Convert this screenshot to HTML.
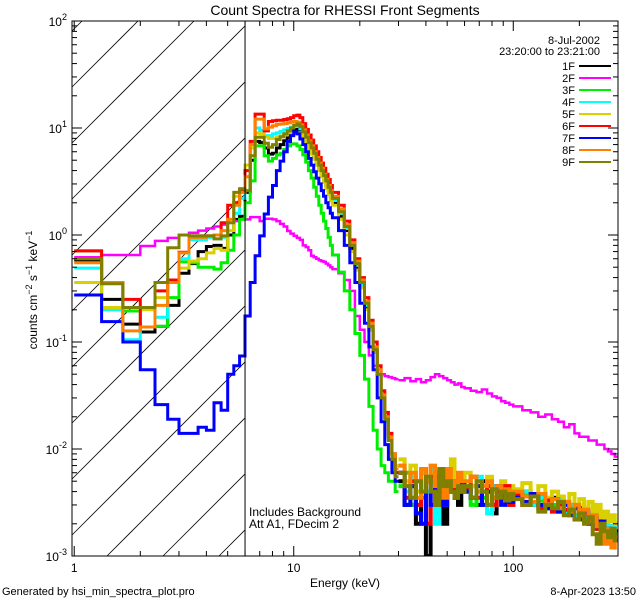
<!DOCTYPE html>
<html><head><meta charset="utf-8">
<style>
html,body{margin:0;padding:0;background:#fff;width:640px;height:600px;overflow:hidden;}
svg{display:block;font-family:"Liberation Sans",sans-serif;overflow:hidden;}
text{fill:#000;}
</style></head>
<body>
<svg id="chart" width="640" height="600" viewBox="0 0 640 600" xmlns="http://www.w3.org/2000/svg">
<rect x="0" y="0" width="640" height="600" fill="#fff"/>
<defs><clipPath id="plotclip"><rect x="72" y="21" width="546" height="535"/></clipPath></defs>
<g id="hatch"></g>
<g id="series" clip-path="url(#plotclip)"></g>
<g id="axes"></g>
<text x="345" y="15" font-size="14" text-anchor="middle">Count Spectra for RHESSI Front Segments</text>
<text x="345" y="587" font-size="12" text-anchor="middle">Energy (keV)</text>
<text transform="translate(37,290) rotate(-90)" font-size="12" text-anchor="middle">counts cm<tspan dy="-5" font-size="9">−2</tspan><tspan dy="5"> s</tspan><tspan dy="-5" font-size="9">−1</tspan><tspan dy="5"> keV</tspan><tspan dy="-5" font-size="9">−1</tspan></text>
<text x="2" y="595" font-size="11">Generated by hsi_min_spectra_plot.pro</text>
<text x="636" y="595" font-size="11" text-anchor="end">8-Apr-2023 13:50</text>
<text x="249" y="516" font-size="12">Includes Background</text>
<text x="249" y="528" font-size="12">Att A1, FDecim 2</text>
<text x="600" y="44" font-size="11" text-anchor="end">8-Jul-2002</text>
<text x="600" y="55" font-size="11" text-anchor="end">23:20:00 to 23:21:00</text>
<g id="legend"></g>
</svg>
<script>
const edges=[1,1.333,1.667,2,2.333,2.667,3,3.333,3.667,4,4.333,4.667,5,5.333,5.667,6,6.333,6.667,7,7.333,7.667,8,8.333,8.667,9,9.333,9.667,10,10.333,10.667,11,11.333,11.667,12,12.333,12.667,13,13.333,13.667,14,14.333,14.667,15,16,17,18,19,20,21,22,23,24,25,26,27,28,29,30,32,34,36,38,40,42,44,46,48,50,52,54,56,58,60,64,68,72,76,80,84,88,92,96,100,110,120,130,140,150,160,170,180,190,200,210,220,230,240,250,260,270,280,290,300];
const seriesNames=["1F","2F","3F","4F","5F","6F","7F","8F","9F"];
const seriesColors=["#000000","#ff00ff","#00ee00","#00ffff","#d8d000","#ff0000","#0000ff","#ff8000","#808000"];
const s1F=[.58,.25,.147,.124,.14,.22,.44,.54,.7,.78,.8,.75,1.0,1.4,1.5,
2.5,5,7.5,7.3,6.5,5.7,5.8,6.5,7.0,7.6,8.2,9.0,9.6,9.7,9.2,8.4,7.5,6.8,6.1,5.4,4.8,4.2,3.7,3.3,2.9,2.6,2.3,
2.0,1.5,1.1,.75,.5,.33,.21,.13,.08,.05,.03,.02,.013,.009,.006,
.005,.003,.0045,.002,.006,.001,.005,.003,.0045,.002,.006,.004,.0055,.003,.005,
.004,.0045,.003,.005,.004,.0025,.0045,.0035,.004,.003,
.0035,.004,.003,.0038,.0028,.0035,.0032,.0025,.003,.0022,.0028,.0025,.002,.0024,.0018,.002,.0016,.0019,.0015,.0017];
const s2F=[.62,.65,.65,.79,.88,.94,1.0,1.05,1.1,1.15,1.2,1.25,1.3,1.35,1.4,
1.4,1.47,1.47,1.35,1.42,1.42,1.4,1.35,1.27,1.2,1.09,1.03,.98,.94,.9,.8,.77,.72,.64,.62,.6,.58,.57,.56,.54,.52,.5,
.48,.44,.38,.3,.175,.13,.1,.075,.06,.055,.05,.048,.047,.046,.045,
.044,.046,.043,.045,.042,.044,.047,.05,.048,.046,.044,.042,.04,.041,.038,
.037,.035,.034,.036,.033,.031,.03,.028,.027,.026,
.025,.023,.022,.02,.021,.019,.018,.016,.017,.014,.013,.013,.012,.012,.011,.011,.01,.0095,.009,.0085];
const s3F=[.71,.36,.195,.138,.14,.26,.56,.55,.5,.5,.48,.55,.72,1.0,1.4,
2.0,3.2,6.8,6.8,5.5,4.9,5.2,5.6,5.8,6.3,6.8,7.1,7.1,6.8,6.3,5.6,4.8,4.0,3.4,2.8,2.3,1.9,1.6,1.35,1.15,.95,.8,
.65,.45,.3,.2,.12,.075,.045,.025,.015,.01,.007,.006,.005,.005,.004,
.0045,.006,.003,.005,.0035,.004,.005,.0025,.006,.003,.0045,.005,.0035,.004,.004,
.0045,.003,.004,.0035,.005,.003,.004,.0035,.004,.003,
.0035,.0038,.003,.0033,.0028,.003,.0032,.0025,.0028,.0024,.0027,.0022,.0025,.002,.0022,.0019,.002,.0017,.0018,.0016];
const s4F=[.49,.2,.105,.138,.17,.37,.6,.9,.9,.95,.92,.95,1.3,1.6,2.2,
3.5,6.5,10,9.5,8.5,8.5,8.8,9.0,9.3,9.6,9.9,10.2,10.5,10.4,9.8,8.8,7.8,7.0,6.2,5.5,4.9,4.3,3.8,3.4,3.0,2.7,2.4,
2.1,1.6,1.15,.8,.52,.34,.22,.14,.085,.05,.03,.018,.012,.008,.006,
.007,.004,.0055,.003,.006,.004,.0065,.002,.005,.004,.006,.0045,.0035,.005,.004,
.0045,.0035,.0055,.004,.0025,.0045,.004,.0035,.004,.003,
.0036,.004,.003,.0035,.003,.0028,.0033,.0026,.003,.0024,.0027,.0023,.0025,.002,.0026,.0018,.0021,.0017,.0019,.0015];
const s5F=[.36,.21,.21,.2,.26,.36,.49,.57,.6,.68,.75,.72,1.1,2.3,2.7,
4.5,6.5,9.0,8.8,8.3,8.0,8.0,8.2,8.4,8.6,8.8,9.0,9.1,9.0,8.6,7.9,7.1,6.4,5.7,5.1,4.5,4.0,3.5,3.1,2.7,2.4,2.1,
1.9,1.4,1.0,.7,.47,.32,.2,.13,.08,.05,.03,.02,.014,.009,.007,
.008,.005,.007,.004,.0065,.005,.006,.0045,.0055,.0065,.005,.008,.005,.0055,.005,
.006,.0045,.005,.004,.0055,.004,.0045,.005,.004,.0045,
.0042,.0048,.0038,.0045,.0035,.004,.0036,.0032,.0038,.003,.0034,.0028,.0032,.0025,.003,.0023,.0026,.0021,.0024,.002];
const s6F=[.71,.36,.25,.138,.3,.38,.69,.98,.98,.98,1.0,1.3,1.9,2.0,2.6,
4.0,7.5,13.5,13.5,9.4,11.5,11.7,11.8,11.8,12.0,12.2,12.5,13.0,13.2,12.5,11.0,9.7,8.6,7.7,6.8,6.0,5.3,4.7,4.2,3.7,3.3,2.9,
2.5,1.9,1.35,.9,.6,.4,.26,.16,.1,.06,.035,.022,.014,.009,.006,
.006,.0035,.005,.003,.0065,.002,.0055,.0045,.003,.006,.004,.005,.0035,.0045,.004,
.0042,.0055,.0035,.004,.0045,.003,.004,.0035,.0045,.003,
.0038,.003,.0036,.0028,.0033,.0026,.003,.0027,.0025,.0028,.0022,.0025,.002,.0022,.0018,.002,.0016,.0018,.0015,.0014];
const s7F=[.275,.155,.1,.055,.026,.019,.014,.014,.016,.015,.027,.023,.05,.06,.074,
.175,.36,.64,.98,1.57,2.26,2.9,4.0,4.9,6.0,7.5,8.5,9.2,8.8,7.9,7.0,6.0,5.2,4.5,3.9,3.4,3.0,2.6,2.3,2.0,1.8,1.6,
1.45,1.1,.8,.55,.36,.23,.15,.09,.055,.03,.018,.011,.008,.006,.005,
.006,.003,.0045,.0025,.002,.005,.003,.0055,.004,.003,.005,.004,.0035,.005,.0045,
.004,.0035,.0045,.003,.004,.0035,.0045,.003,.004,.0032,
.0035,.0032,.0038,.003,.0028,.0034,.0026,.003,.0024,.0028,.0022,.0026,.002,.0023,.0019,.0021,.0017,.0018,.0016,.0015];
const s8F=[.55,.36,.127,.138,.22,.36,.68,.95,.95,.98,1.0,1.1,1.4,1.9,2.5,
3.5,7.0,12.1,12.1,9.8,10.2,10.5,10.8,10.9,11.0,11.2,11.4,11.5,11.3,10.7,9.6,8.6,7.6,6.8,6.0,5.3,4.7,4.2,3.7,3.3,2.9,2.6,
2.3,1.75,1.25,.85,.57,.38,.24,.15,.09,.055,.032,.02,.013,.009,.0065,
.007,.0045,.006,.0035,.0065,.005,.007,.0045,.006,.0035,.0065,.005,.0045,.006,.005,
.005,.0055,.004,.0045,.005,.0035,.0045,.004,.0042,.0035,
.004,.0036,.0032,.0038,.003,.0034,.0028,.0032,.0026,.003,.0024,.0027,.0021,.0024,.0019,.0016,.0013,.0018,.0012,.0015];
const s9F=[.6,.35,.21,.21,.36,.76,1.0,.98,.98,.98,.92,.98,1.3,2.5,2.7,
2.6,5.5,8.2,8.2,7.2,6.6,7.0,7.8,8.3,8.8,9.4,10.0,10.6,10.9,10.3,9.2,8.2,7.3,6.5,5.8,5.1,4.5,4.0,3.6,3.2,2.8,2.5,
2.2,1.65,1.2,.8,.54,.36,.23,.14,.085,.05,.03,.019,.012,.008,.0055,
.006,.0045,.0035,.005,.004,.0055,.004,.003,.0065,.0045,.005,.004,.0035,.0045,.004,
.0045,.0035,.005,.004,.003,.0042,.0035,.004,.0033,.0038,
.0034,.003,.0036,.0026,.003,.0028,.0032,.0024,.0027,.0022,.0025,.002,.0023,.0016,.0013,.002,.0017,.0015,.0018,.0014];
const allSeries=[s1F,s2F,s3F,s4F,s5F,s6F,s7F,s8F,s9F];
const xTickValues=[1,10,100];
const xTickLabels=["1","10","100"];
const yTickExps=[-3,-2,-1,0,1,2];

const NS="http://www.w3.org/2000/svg";
const PL=72,PR=618,PT=21,PB=556;
const XMIN=Math.log10(0.977),XMAX=Math.log10(300);
const YMIN=-3,YMAX=2;
function xs(e){return PL+(Math.log10(e)-XMIN)/(XMAX-XMIN)*(PR-PL);}
function ys(v){const l=Math.log10(Math.max(v,1e-4));const y=PB-(l-YMIN)/(YMAX-YMIN)*(PB-PT);return Math.min(y,PB+3);}
function mk(tag,attrs,parent){const el=document.createElementNS(NS,tag);for(const k in attrs)el.setAttribute(k,attrs[k]);parent.appendChild(el);return el;}

const hatch=document.getElementById('hatch');
const HX2=xs(6);
for(let c=PL+PT+10;c<HX2+PB;c+=56){
  const xa=Math.max(PL,c-PB),xb=Math.min(HX2,c-PT);
  if(xb<=xa)continue;
  const ln=mk('line',{x1:xa,y1:c-xa,x2:xb,y2:c-xb,stroke:'#000','stroke-width':0.8},hatch);
  
  
}
const sg=document.getElementById('series');
allSeries.forEach((vals,si)=>{
  let d='',d2='';
  for(let i=0;i<vals.length;i++){
    const x0=xs(edges[i]),x1=xs(edges[i+1]),y=ys(vals[i]);
    const seg=x0.toFixed(1)+','+y.toFixed(1)+'L'+x1.toFixed(1)+','+y.toFixed(1);
    if(edges[i]<30){d+=(i===0?'M':'L')+seg;}
    else{d2+=(d2===''?'M':'L')+seg;}
  }
  const p=mk('path',{d:d,fill:'none',stroke:seriesColors[si],'stroke-width':si===1?2.5:3},sg);
  
  
  const p2=mk('path',{d:d2,fill:'none',stroke:seriesColors[si],'stroke-width':si===1?2.5:4},sg);
  
  
});
const ax=document.getElementById('axes');
const frame=mk('rect',{x:PL,y:PT,width:PR-PL,height:PB-PT,fill:'none',stroke:'#000','stroke-width':1},ax);


const vline=mk('line',{x1:xs(6),y1:PT,x2:xs(6),y2:PB,stroke:'#000','stroke-width':1},ax);


for(let dec=0;dec<=2;dec++){
  for(let m=1;m<=9;m++){
    const e=m*Math.pow(10,dec);if(e<1||e>300)continue;
    const x=xs(e),L=(m===1)?10:5;
    const t1=mk('line',{x1:x,y1:PB,x2:x,y2:PB-L,stroke:'#000'},ax);
    
    
    const t2=mk('line',{x1:x,y1:PT,x2:x,y2:PT+L,stroke:'#000'},ax);
    
    
  }
}
xTickValues.forEach((v,i)=>{
  const t=mk('text',{x:xs(v),y:572,'font-size':12,'text-anchor':'middle'},ax);
  t.textContent=xTickLabels[i];
  
  
});
yTickExps.forEach(ex=>{
  for(let m=1;m<=9;m++){
    if(ex===2&&m>1)break;
    const y=ys(m*Math.pow(10,ex)),L=(m===1)?10:5;
    const a=mk('line',{x1:PL,y1:y,x2:PL+L,y2:y,stroke:'#000'},ax);
    
    
    const b=mk('line',{x1:PR,y1:y,x2:PR-L,y2:y,stroke:'#000'},ax);
    
    
  }
  const y=ys(Math.pow(10,ex));
  const t=mk('text',{x:67,y:y+5,'font-size':12,'text-anchor':'end'},ax);
  
  
  t.textContent='10';
  const sp=mk('tspan',{dy:-6,'font-size':9},t);
  sp.textContent=String(ex);
});
const lg=document.getElementById('legend');
seriesNames.forEach((n,i)=>{
  const y=66+i*12;
  const t=mk('text',{x:575,y:y+4,'font-size':11,'text-anchor':'end'},lg);
  t.textContent=n;
  
  
  const l=mk('line',{x1:579,y1:y,x2:611,y2:y,stroke:seriesColors[i],'stroke-width':2},lg);
  
  
});
</script>
</body></html>
